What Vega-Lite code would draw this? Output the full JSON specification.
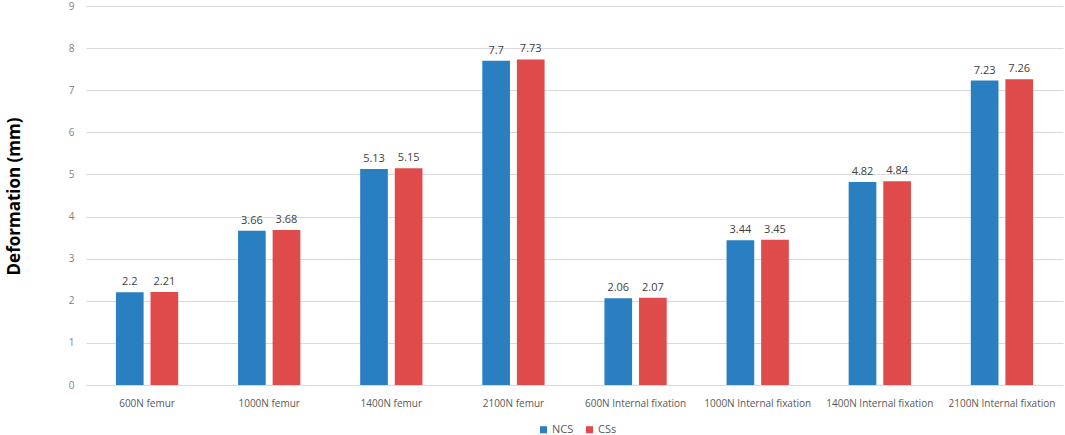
{
  "$schema": "https://vega.github.io/schema/vega-lite/v6.json",
  "width": 977,
  "height": 379,
  "autosize": "none",
  "padding": {"left": 86, "top": 6, "right": 2, "bottom": 50},
  "background": "white",
  "config": {
    "view": {"stroke": null},
    "font": "Open Sans"
  },
  "data": {
    "values": [
      {"load": "600N femur", "group": "NCS", "value": 2.2},
      {"load": "600N femur", "group": "CSs", "value": 2.21},
      {"load": "1000N femur", "group": "NCS", "value": 3.66},
      {"load": "1000N femur", "group": "CSs", "value": 3.68},
      {"load": "1400N femur", "group": "NCS", "value": 5.13},
      {"load": "1400N femur", "group": "CSs", "value": 5.15},
      {"load": "2100N femur", "group": "NCS", "value": 7.7},
      {"load": "2100N femur", "group": "CSs", "value": 7.73},
      {"load": "600N  Internal fixation", "group": "NCS", "value": 2.06},
      {"load": "600N  Internal fixation", "group": "CSs", "value": 2.07},
      {"load": "1000N Internal fixation", "group": "NCS", "value": 3.44},
      {"load": "1000N Internal fixation", "group": "CSs", "value": 3.45},
      {"load": "1400N Internal fixation", "group": "NCS", "value": 4.82},
      {"load": "1400N Internal fixation", "group": "CSs", "value": 4.84},
      {"load": "2100N Internal fixation", "group": "NCS", "value": 7.23},
      {"load": "2100N Internal fixation", "group": "CSs", "value": 7.26}
    ]
  },
  "encoding": {
    "x": {
      "field": "load",
      "type": "nominal",
      "sort": null,
      "title": null,
      "scale": {"paddingInner": 0.49, "paddingOuter": 0.245},
      "axis": {
        "labelAngle": 0,
        "labelFontSize": 10,
        "labelColor": "#595959",
        "labelPadding": 13,
        "ticks": false,
        "domain": false
      }
    },
    "xOffset": {
      "field": "group",
      "type": "nominal",
      "sort": ["NCS", "CSs"],
      "scale": {"paddingInner": 0.2}
    },
    "y": {
      "field": "value",
      "type": "quantitative",
      "title": "Deformation (mm)",
      "scale": {"domain": [0, 9], "nice": false},
      "axis": {
        "values": [0, 1, 2, 3, 4, 5, 6, 7, 8, 9],
        "labelOverlap": false,
        "labelFontSize": 10,
        "labelColor": "#7f7f7f",
        "labelPadding": 12,
        "ticks": false,
        "domain": false,
        "gridColor": "#d9d9d9",
        "titleFontSize": 17,
        "titleFontWeight": "bold",
        "titleColor": "#000000",
        "titleX": -63,
        "titleY": 190
      }
    }
  },
  "layer": [
    {
      "mark": {"type": "bar"},
      "encoding": {
        "color": {
          "field": "group",
          "type": "nominal",
          "sort": ["NCS", "CSs"],
          "scale": {"domain": ["NCS", "CSs"], "range": ["#2a7fc1", "#df4b4b"]},
          "legend": {
            "title": null,
            "orient": "none",
            "direction": "horizontal",
            "legendX": 452,
            "legendY": 418,
            "symbolType": "square",
            "symbolSize": 50,
            "symbolStrokeWidth": 0,
            "labelFontSize": 11,
            "labelColor": "#595959",
            "columnPadding": 10,
            "labelOffset": 3
          }
        }
      }
    },
    {
      "mark": {"type": "text", "dy": -10, "fontSize": 11, "color": "#404040"},
      "encoding": {
        "text": {"field": "value", "type": "quantitative"}
      }
    }
  ]
}
